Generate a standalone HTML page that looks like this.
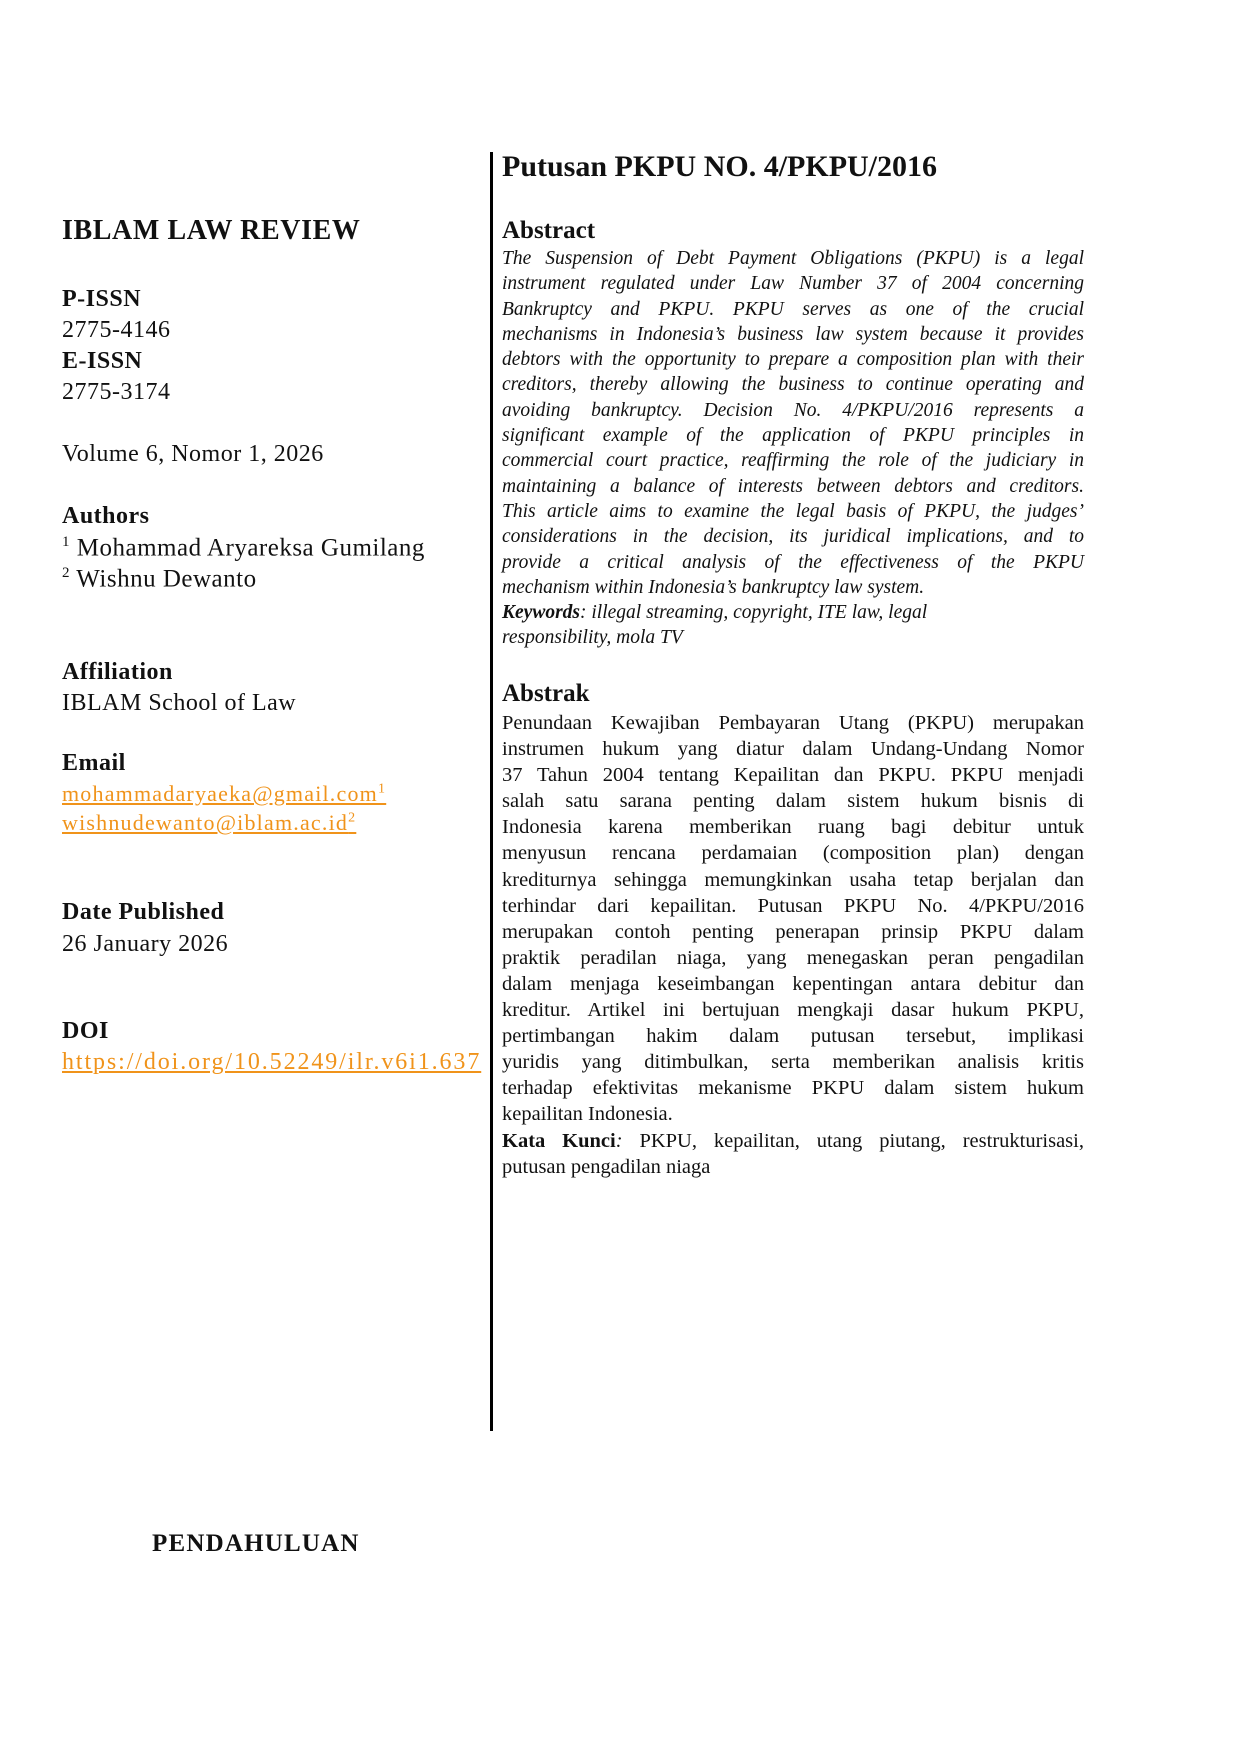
<!DOCTYPE html>
<html><head><meta charset="utf-8"><style>
body{margin:0;background:#fff;}
.p{position:relative;width:1240px;height:1754px;overflow:hidden;font-family:"Liberation Serif",serif;color:#111;}
.a{position:absolute;white-space:nowrap;}
.b{font-weight:bold;}
.h{font-size:28px;letter-spacing:0.6px;}
.l{font-size:24px;left:62px;letter-spacing:0.5px;}
.o{color:#f0931a;text-decoration:underline;font-size:22px;letter-spacing:1.2px;}
.o sup{font-size:14px;}
.vl{position:absolute;left:490px;top:152px;width:3px;height:1279px;background:#000;}
.r{position:absolute;left:502px;width:582px;}
.r div{text-align:justify;text-align-last:justify;white-space:nowrap;height:25.3px;line-height:25.3px;}
.it div{font-style:italic;font-size:19.5px;}
.rg div{font-size:20.5px;height:26.1px;line-height:26.1px;}
.r div.n{text-align-last:left;}
</style></head><body><div class="p">
<div class="vl"></div>
<div class="a b" style="left:502px;top:150px;font-size:30px;">Putusan PKPU NO. 4/PKPU/2016</div>
<div class="a b h" style="left:62px;top:215px;">IBLAM LAW REVIEW</div>
<div class="a b l" style="top:286px;">P-ISSN</div>
<div class="a l" style="top:317px;">2775-4146</div>
<div class="a b l" style="top:348px;">E-ISSN</div>
<div class="a l" style="top:379px;">2775-3174</div>
<div class="a l" style="top:441px;">Volume 6, Nomor 1, 2026</div>
<div class="a b l" style="top:503px;">Authors</div>
<div class="a l" style="top:534px;font-size:25px;"><sup style="font-size:15px">1</sup> Mohammad Aryareksa Gumilang</div>
<div class="a l" style="top:565px;font-size:25px;"><sup style="font-size:15px">2</sup> Wishnu Dewanto</div>
<div class="a b l" style="top:659px;">Affiliation</div>
<div class="a l" style="top:690px;">IBLAM School of Law</div>
<div class="a b l" style="top:750px;">Email</div>
<div class="a o" style="left:62px;top:781px;">mohammadaryaeka@gmail.com<sup>1</sup></div>
<div class="a o" style="left:62px;top:810px;">wishnudewanto@iblam.ac.id<sup>2</sup></div>
<div class="a b l" style="top:899px;">Date Published</div>
<div class="a l" style="top:931px;">26 January 2026</div>
<div class="a b l" style="top:1018px;">DOI</div>
<div class="a o" style="left:62px;top:1049px;font-size:24px;letter-spacing:1.9px;">https://doi.org/10.52249/ilr.v6i1.637</div>
<div class="a b" style="left:152px;top:1530px;font-size:25px;letter-spacing:1.2px;">PENDAHULUAN</div>
<div class="a b" style="left:502px;top:217px;font-size:25px;">Abstract</div>
<div class="r it" style="top:246px;">
<div>The Suspension of Debt Payment Obligations (PKPU) is a legal</div>
<div>instrument regulated under Law Number 37 of 2004 concerning</div>
<div>Bankruptcy and PKPU. PKPU serves as one of the crucial</div>
<div>mechanisms in Indonesia’s business law system because it provides</div>
<div>debtors with the opportunity to prepare a composition plan with their</div>
<div>creditors, thereby allowing the business to continue operating and</div>
<div>avoiding bankruptcy. Decision No. 4/PKPU/2016 represents a</div>
<div>significant example of the application of PKPU principles in</div>
<div>commercial court practice, reaffirming the role of the judiciary in</div>
<div>maintaining a balance of interests between debtors and creditors.</div>
<div>This article aims to examine the legal basis of PKPU, the judges’</div>
<div>considerations in the decision, its juridical implications, and to</div>
<div>provide a critical analysis of the effectiveness of the PKPU</div>
<div class="n">mechanism within Indonesia’s bankruptcy law system.</div>
<div class="n"><b>Keywords</b>: illegal streaming, copyright, ITE law, legal</div>
<div class="n">responsibility, mola TV</div>
</div>
<div class="a b" style="left:502px;top:680px;font-size:25px;">Abstrak</div>
<div class="r rg" style="top:710px;">
<div>Penundaan Kewajiban Pembayaran Utang (PKPU) merupakan</div>
<div>instrumen hukum yang diatur dalam Undang-Undang Nomor</div>
<div>37 Tahun 2004 tentang Kepailitan dan PKPU. PKPU menjadi</div>
<div>salah satu sarana penting dalam sistem hukum bisnis di</div>
<div>Indonesia karena memberikan ruang bagi debitur untuk</div>
<div>menyusun rencana perdamaian (composition plan) dengan</div>
<div>krediturnya sehingga memungkinkan usaha tetap berjalan dan</div>
<div>terhindar dari kepailitan. Putusan PKPU No. 4/PKPU/2016</div>
<div>merupakan contoh penting penerapan prinsip PKPU dalam</div>
<div>praktik peradilan niaga, yang menegaskan peran pengadilan</div>
<div>dalam menjaga keseimbangan kepentingan antara debitur dan</div>
<div>kreditur. Artikel ini bertujuan mengkaji dasar hukum PKPU,</div>
<div>pertimbangan hakim dalam putusan tersebut, implikasi</div>
<div>yuridis yang ditimbulkan, serta memberikan analisis kritis</div>
<div>terhadap efektivitas mekanisme PKPU dalam sistem hukum</div>
<div class="n">kepailitan Indonesia.</div>
<div><b>Kata Kunci</b><i>:</i> PKPU, kepailitan, utang piutang, restrukturisasi,</div>
<div class="n">putusan pengadilan niaga</div>
</div>
</div></body></html>
